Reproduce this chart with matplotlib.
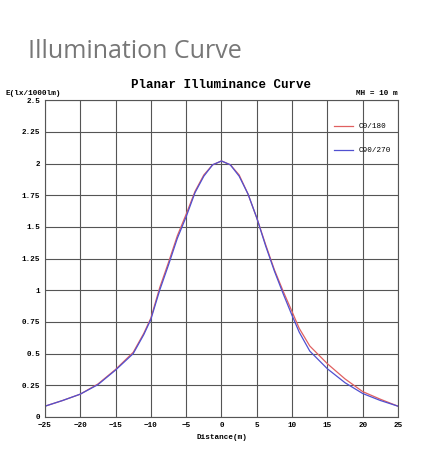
import numpy as np
import matplotlib.pyplot as plt

dist = [-25, -22.5, -20, -17.5, -15, -12.5, -11, -10, -8.75, -7.5, -6.25, -5, -3.75, -2.5, -1.25, 0,
        1.25, 2.5, 3.75, 5, 6.25, 7.5, 8.75, 10, 11, 12.5, 15, 17.5, 20, 22.5, 25]
c0_180 = [0.085, 0.13, 0.18, 0.26, 0.375, 0.51, 0.66, 0.78, 1.02, 1.22, 1.43, 1.6, 1.78, 1.91, 1.99, 2.02,
          1.99, 1.91, 1.76, 1.57, 1.36, 1.16, 0.99, 0.83, 0.7, 0.56, 0.42, 0.3, 0.2, 0.14, 0.085]
c90_270 = [0.085, 0.13, 0.18, 0.255, 0.37, 0.5, 0.65, 0.77, 1.0, 1.2, 1.41, 1.58, 1.77, 1.9, 1.99, 2.02,
           1.99, 1.9, 1.76, 1.57, 1.35, 1.15, 0.97, 0.8, 0.67, 0.52, 0.38, 0.27, 0.185, 0.13, 0.085]

mono = ['Liberation Mono', 'DejaVu Sans Mono']

fig = plt.figure(figsize=(4.36, 4.68), dpi=100)
fig.text(0.065, 0.875, 'Illumination Curve', fontsize=18, color='#777777', family='Open Sans')
ax = fig.add_axes([0.103, 0.109, 0.810, 0.677])

ax.plot(dist, c0_180, color='#e06060', lw=0.9, label='C0/180')
ax.plot(dist, c90_270, color='#5050d0', lw=0.9, label='C90/270')

ax.set_xlim(-25, 25)
ax.set_ylim(0, 2.5)
ax.set_xticks(np.arange(-25, 26, 5))
ax.set_yticks(np.arange(0, 2.51, 0.25))
ax.set_yticklabels(['0', '0.25', '0.5', '0.75', '1', '1.25', '1.5', '1.75', '2', '2.25', '2.5'])
ax.grid(True, color='#555555', lw=0.8)
ax.tick_params(length=0, labelsize=5.5)
for lab in ax.get_xticklabels() + ax.get_yticklabels():
    lab.set_family(mono)
    lab.set_fontweight('bold')
for s in ax.spines.values():
    s.set_color('#555555')

ax.set_xlabel('Distance(m)', fontsize=5.5, family=mono, fontweight='bold', labelpad=4)
ax.set_title('Planar Illuminance Curve', fontsize=9, family=mono, fontweight='bold', pad=9)
fig.text(0.012, 0.797, 'E(lx/1000lm)', fontsize=5.5, family=mono, fontweight='bold')
fig.text(0.913, 0.797, 'MH = 10 m', fontsize=5.5, family=mono, fontweight='bold', ha='right')

leg = ax.legend(loc='upper right', frameon=False, prop={'family': mono, 'size': 5.5},
                handlelength=2.5, labelspacing=2.2, bbox_to_anchor=(1.0, 0.95))

fig.savefig('out.png', dpi=100)
